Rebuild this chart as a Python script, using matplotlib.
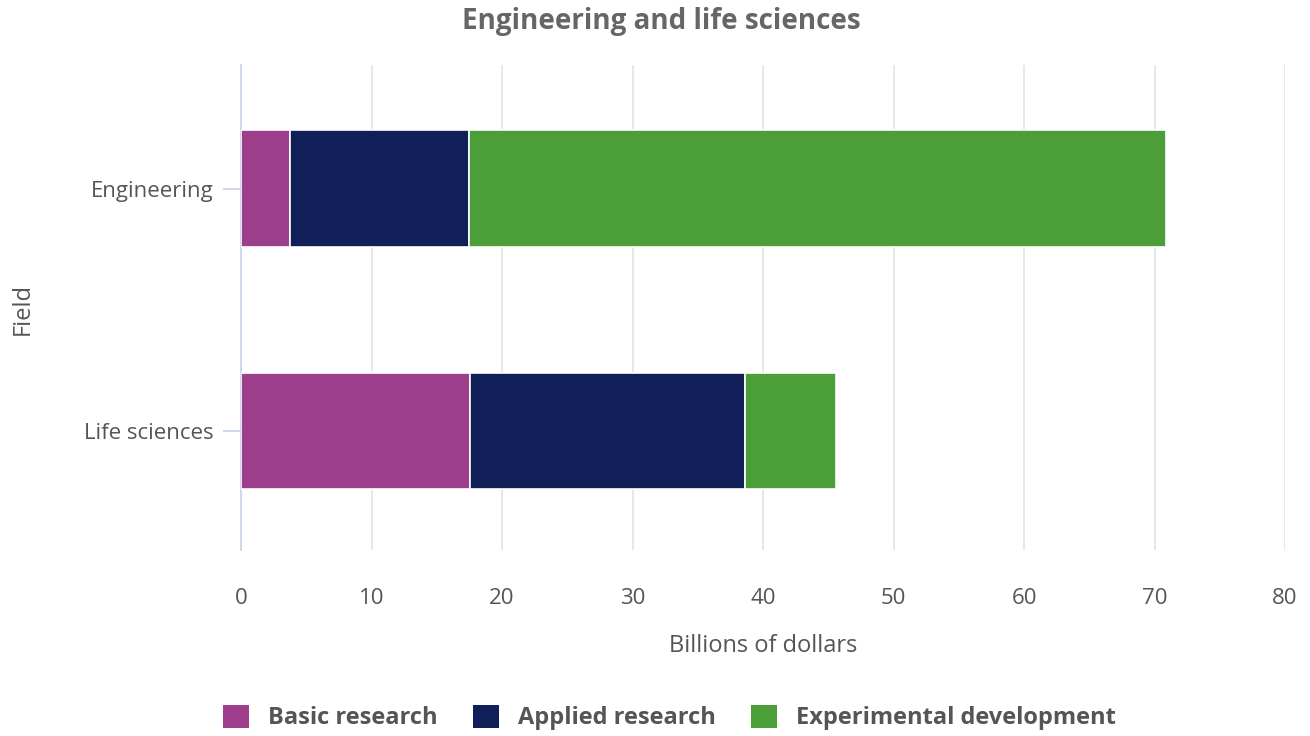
import matplotlib.pyplot as plt
from matplotlib.patches import Patch

plt.rcParams['font.family'] = ['Open Sans', 'DejaVu Sans']

fields = ['Life sciences', 'Engineering']
series_names = ['Basic research', 'Applied research', 'Experimental development']
basic = [17.55, 3.75]
applied = [21.07, 13.72]
experimental = [6.97, 53.41]
colors = ['#9e3f8d', '#101f57', '#4c9f38']
x_ticks = [0, 10, 20, 30, 40, 50, 60, 70, 80]

fig = plt.figure(figsize=(13.1, 7.36), dpi=100)
ax = fig.add_axes([0.184, 0.2527, 0.797, 0.659])

ypos = list(range(len(fields)))
left = [0.0] * len(fields)
for vals, col in zip([basic, applied, experimental], colors):
    ax.barh(ypos, vals, left=left, height=0.48, color=col,
            edgecolor='white', linewidth=1.2, zorder=3)
    left = [l + v for l, v in zip(left, vals)]

ax.set_xlim(0, 80)
ax.set_ylim(-0.49, 1.51)
ax.set_xticks(x_ticks)
ax.set_yticks(ypos)
ax.set_yticklabels(fields)
ax.grid(axis='x', color='#e6e6e6', linewidth=1.3, zorder=0)
for s in ['top', 'right', 'bottom']:
    ax.spines[s].set_visible(False)
ax.spines['left'].set_color('#ccd6eb')
ax.spines['left'].set_linewidth(1.3)
ax.tick_params(axis='x', length=0, pad=27, labelsize=16, labelcolor='#555555')
ax.tick_params(axis='y', length=13, width=1.3, color='#ccd6eb', pad=7,
               labelsize=16, labelcolor='#555555')

ax.set_xlabel('Billions of dollars', fontsize=17, color='#555555', labelpad=18)
fig.text(0.017, 0.58, 'Field', rotation=90, fontsize=17, color='#555555',
         ha='center', va='center')

fig.suptitle('Engineering and life sciences', x=0.505, y=0.99, fontsize=20,
             fontweight='bold', color='#666666')

handles = [Patch(facecolor=c, edgecolor='none') for c in colors]
leg = fig.legend(handles, series_names, loc='center', bbox_to_anchor=(0.511, 0.025),
                 ncol=3, frameon=False, handlelength=1.1, handleheight=1.1,
                 columnspacing=1.5, handletextpad=0.8,
                 prop={'weight': 'bold', 'size': 17})
for t in leg.get_texts():
    t.set_color('#555555')

fig.savefig('out.png', dpi=100)
